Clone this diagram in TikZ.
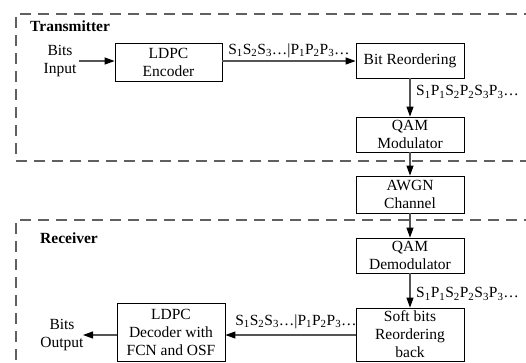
\documentclass[tikz,border=0pt]{standalone}
\usepackage{fontspec}
\setmainfont{Liberation Serif}
\usetikzlibrary{arrows.meta}
\definecolor{lnc}{HTML}{555555}
\definecolor{dsh}{HTML}{606060}
\begin{document}
\begin{tikzpicture}[x=1pt,y=-1pt,
  every node/.style={font=\fontsize{15.5}{18}\selectfont, inner sep=0pt},
  blk/.style={draw=black, line width=0.8pt, align=center, minimum width=108pt, fill=white},
  txt/.style={align=center},
  lbl/.style={},
  conn/.style={draw=lnc, line width=1.1pt, -{Triangle[length=10pt,width=7pt,color=black]}},
  region/.style={draw=dsh, line width=1.3pt, dash pattern=on 11pt off 7pt}
]
\useasboundingbox (0,0) rectangle (526,362);
\begin{scope}
\clip (0,0) rectangle (526,362);
\draw[region] (535,14) -- (16,14) -- (16,161) -- (535,161);
\draw[region] (535,220) -- (16,220) -- (16,372);
\end{scope}

\node[anchor=west, font=\fontsize{15.5}{18}\selectfont\bfseries] (tx) at (30,26) {Transmitter};
\node[anchor=west, font=\fontsize{15.5}{18}\selectfont\bfseries] (rx) at (40,238) {Receiver};

\node[txt] (bin) at (60,61) {Bits\\Input};
\node[blk, minimum width=107pt, minimum height=38pt] (enc) at (168.5,62) {LDPC\\Encoder};
\node[blk, minimum height=35pt] (bro) at (410,60.5) {Bit Reordering};
\node[blk, minimum height=35pt] (mod) at (410,134.5) {QAM\\Modulator};
\node[blk, minimum height=37pt] (awgn) at (410,194.5) {AWGN\\Channel};
\node[blk, minimum height=35pt] (dem) at (410,255.5) {QAM\\Demodulator};
\node[blk, minimum height=53pt] (soft) at (410,334.5) {Soft bits\\Reordering\\back};
\node[blk, minimum height=58pt] (dec) at (171,332) {LDPC\\Decoder with\\FCN and OSF};
\node[txt] (bout) at (62,335) {Bits\\Output};

\coordinate (binE) at (79,61);
\coordinate (boutE) at (83,335);

\draw[conn] (binE) -- (enc.west |- binE);
\draw[conn] (enc.east |- binE) -- (bro.west |- binE);
\draw[conn] (bro) -- (mod);
\draw[conn] (mod) -- (awgn);
\draw[conn] (awgn) -- (dem);
\draw[conn] (dem) -- (soft);
\draw[conn] (soft.west |- 0,335) -- (dec.east |- 0,335);
\draw[conn] (dec.west |- boutE) -- (boutE);

\node[lbl] (l1) at (289,51) {S\textsubscript{1}S\textsubscript{2}S\textsubscript{3}…|P\textsubscript{1}P\textsubscript{2}P\textsubscript{3}…};
\node[lbl, anchor=west] (l2) at (416,92) {S\textsubscript{1}P\textsubscript{1}S\textsubscript{2}P\textsubscript{2}S\textsubscript{3}P\textsubscript{3}…};
\node[lbl, anchor=west] (l3) at (416,294) {S\textsubscript{1}P\textsubscript{1}S\textsubscript{2}P\textsubscript{2}S\textsubscript{3}P\textsubscript{3}…};
\node[lbl] (l4) at (296,322) {S\textsubscript{1}S\textsubscript{2}S\textsubscript{3}…|P\textsubscript{1}P\textsubscript{2}P\textsubscript{3}…};
\end{tikzpicture}
\end{document}
